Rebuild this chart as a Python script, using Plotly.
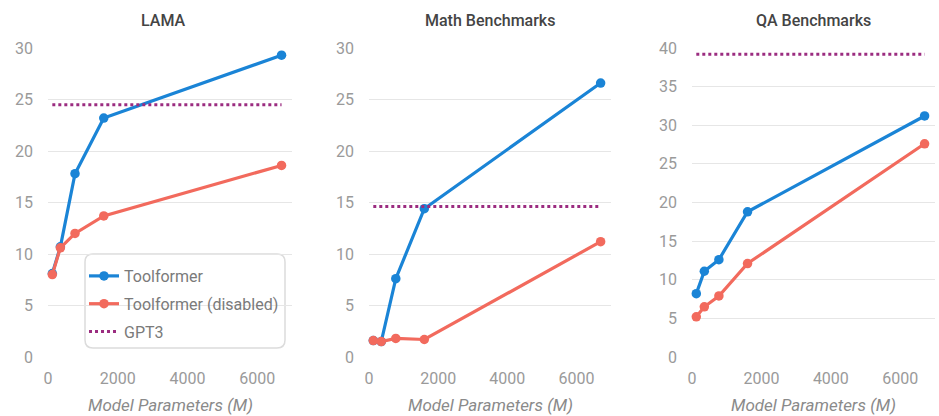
import plotly.graph_objects as go

W, H = 939, 416

params = [124, 355, 775, 1600, 6700]
panel_titles = ["LAMA", "Math Benchmarks", "QA Benchmarks"]
toolformer = [
    [8.1, 10.7, 17.8, 23.2, 29.3],
    [1.6, 1.5, 7.6, 14.4, 26.6],
    [8.2, 11.1, 12.6, 18.8, 31.2],
]
toolformer_disabled = [
    [8.0, 10.6, 12.0, 13.7, 18.6],
    [1.6, 1.5, 1.8, 1.7, 11.2],
    [5.2, 6.5, 7.9, 12.1, 27.6],
]
gpt3 = [24.5, 14.6, 39.2]
y_max = [30, 30, 40]
x_ticks = [0, 2000, 4000, 6000]

BLUE = "#1a84d6"
RED = "#f26a5d"
PURPLE = "#9b2c80"
FONT = "Roboto"

# panel pixel extents (left, right)
panels_px = [(48, 292), (369, 611), (692, 935)]
y_top_px, y_bot_px = 48, 357

fig = go.Figure()

for i in range(3):
    xa = "x" if i == 0 else f"x{i+1}"
    ya = "y" if i == 0 else f"y{i+1}"
    show = i == 0
    fig.add_trace(go.Scatter(
        x=params, y=toolformer[i], mode="lines+markers", name="Toolformer",
        line=dict(color=BLUE, width=3.2), marker=dict(size=9.5, color=BLUE),
        xaxis=xa, yaxis=ya, showlegend=show, legendgroup="a", cliponaxis=False))
    fig.add_trace(go.Scatter(
        x=params, y=toolformer_disabled[i], mode="lines+markers",
        name="Toolformer (disabled)",
        line=dict(color=RED, width=3.2), marker=dict(size=9.5, color=RED),
        xaxis=xa, yaxis=ya, showlegend=show, legendgroup="b", cliponaxis=False))
    fig.add_trace(go.Scatter(
        x=[params[0], params[-1]], y=[gpt3[i], gpt3[i]], mode="lines", name="GPT3",
        line=dict(color=PURPLE, width=3, dash="dot"),
        xaxis=xa, yaxis=ya, showlegend=show, legendgroup="c"))

layout = dict(
    width=W, height=H, margin=dict(l=0, r=0, t=0, b=0, autoexpand=False),
    paper_bgcolor="white", plot_bgcolor="white",
    font=dict(family=FONT, size=16, color="#9a9a9a"),
    showlegend=True,
)

ydom = [1 - y_bot_px / H, 1 - y_top_px / H]
annotations = []
for i, (l, r) in enumerate(panels_px):
    sx = "" if i == 0 else str(i + 1)
    layout[f"xaxis{sx}"] = dict(
        domain=[l / W, r / W], range=[0, 7000], anchor=f"y{sx}",
        tickvals=x_ticks, showgrid=False, zeroline=False, showline=False,
        ticks="", ticklabelstandoff=10, automargin=False,
        tickfont=dict(family=FONT, size=16, color="#9a9a9a"),
    )
    layout[f"yaxis{sx}"] = dict(
        domain=ydom, range=[0, y_max[i]], anchor=f"x{sx}",
        dtick=5, showgrid=True, gridcolor="#e6e6e6", gridwidth=1,
        zeroline=False, showline=False, ticks="", ticklabelstandoff=14,
        automargin=False,
        tickfont=dict(family=FONT, size=16, color="#9a9a9a"),
    )
    cx = (l + r) / 2 / W
    annotations.append(dict(
        text=panel_titles[i], x=cx - (7 / W if i == 0 else 0), y=1 - 20 / H,
        xref="paper", yref="paper", showarrow=False,
        xanchor="center", yanchor="middle",
        font=dict(family=FONT, size=16, color="#444444", weight=500)))
    annotations.append(dict(
        text="Model Parameters (M)", x=cx, y=1 - 405 / H,
        xref="paper", yref="paper", showarrow=False,
        xanchor="center", yanchor="middle",
        font=dict(family=FONT, size=17, color="#8a8a8a", style="italic")))

layout["annotations"] = annotations

# rounded legend box
bx0, bx1, by0, by1, rad = 85, 285, 254, 348, 8
def px(x):
    return x / W
def py(y):
    return 1 - y / H
path = (
    f"M {px(bx0+rad)},{py(by0)} L {px(bx1-rad)},{py(by0)} "
    f"Q {px(bx1)},{py(by0)} {px(bx1)},{py(by0+rad)} "
    f"L {px(bx1)},{py(by1-rad)} Q {px(bx1)},{py(by1)} {px(bx1-rad)},{py(by1)} "
    f"L {px(bx0+rad)},{py(by1)} Q {px(bx0)},{py(by1)} {px(bx0)},{py(by1-rad)} "
    f"L {px(bx0)},{py(by0+rad)} Q {px(bx0)},{py(by0)} {px(bx0+rad)},{py(by0)} Z"
)
layout["shapes"] = [dict(type="path", path=path, xref="paper", yref="paper",
                         fillcolor="white", line=dict(color="#dcdcdc", width=1.5),
                         layer="between")]

layout["legend"] = dict(
    x=px(84), y=py(259), xanchor="left", yanchor="top",
    bgcolor="rgba(0,0,0,0)", borderwidth=0,
    font=dict(family=FONT, size=16, color="#7a7a7a"),
    tracegroupgap=4, itemwidth=30,
)

fig.update_layout(**layout)
fig.write_html(
    "out.html",
    config={"displayModeBar": False},
    post_script="document.body.style.margin='0';document.body.style.overflow='hidden';",
)
